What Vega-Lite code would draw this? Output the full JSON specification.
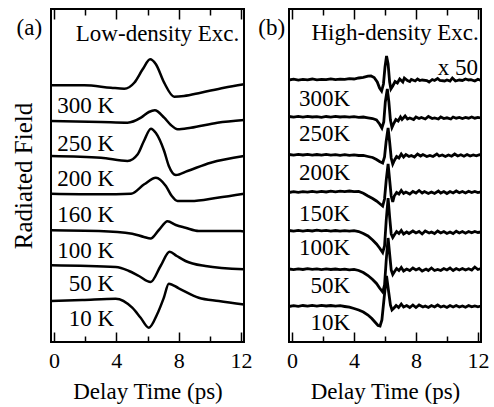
{
  "$schema": "https://vega.github.io/schema/vega-lite/v6.json",
  "padding": {"left": 10, "top": 7, "right": 8, "bottom": 4},
  "bounds": "flush",
  "spacing": 45,
  "config": {
    "font": "Times New Roman, Liberation Serif, DejaVu Serif, serif",
    "view": {"stroke": "black", "strokeWidth": 2},
    "axis": {"grid": false, "domain": false, "tickColor": "black", "tickWidth": 1.5, "labelColor": "black", "titleColor": "black", "labelFontSize": 22, "titleFontSize": 23, "titleFontWeight": "normal", "labelFont": "Times New Roman, Liberation Serif, DejaVu Serif, serif", "titleFont": "Times New Roman, Liberation Serif, DejaVu Serif, serif"},
    "text": {"font": "Times New Roman, Liberation Serif, DejaVu Serif, serif", "fontSize": 23, "align": "right", "baseline": "middle", "color": "black"},
    "line": {"color": "black"}
  },
  "datasets": {
    "a": [
      {"T":"300","t":-0.2,"v":256.7},{"T":"300","t":1.94,"v":256.7},{"T":"300","t":3.65,"v":254.3},{"T":"300","t":4.51,"v":253.3},{"T":"300","t":5.15,"v":259.3},{"T":"300","t":5.69,"v":272.7},{"T":"300","t":6.17,"v":282.7},{"T":"300","t":6.54,"v":277.7},{"T":"300","t":7.07,"v":259.3},{"T":"300","t":7.71,"v":245.3},{"T":"300","t":8.35,"v":246},{"T":"300","t":9.42,"v":249.3},{"T":"300","t":10.92,"v":254.3},{"T":"300","t":12.2,"v":257.7},
      {"T":"250","t":-0.2,"v":221},{"T":"250","t":3.01,"v":220},{"T":"250","t":4.72,"v":219.3},{"T":"250","t":5.58,"v":224.3},{"T":"250","t":6.09,"v":230},{"T":"250","t":6.47,"v":231.7},{"T":"250","t":7.07,"v":224.3},{"T":"250","t":7.5,"v":217},{"T":"250","t":7.93,"v":212.7},{"T":"250","t":8.78,"v":214.3},{"T":"250","t":10.49,"v":219.3},{"T":"250","t":12.2,"v":222},
      {"T":"200","t":-0.2,"v":186},{"T":"200","t":3.01,"v":184.3},{"T":"200","t":4.72,"v":181},{"T":"200","t":5.37,"v":187.7},{"T":"200","t":5.77,"v":201},{"T":"200","t":6.22,"v":213.3},{"T":"200","t":6.54,"v":209},{"T":"200","t":7.07,"v":191},{"T":"200","t":7.37,"v":176},{"T":"200","t":7.82,"v":167},{"T":"200","t":8.57,"v":171},{"T":"200","t":10.06,"v":179.3},{"T":"200","t":12.2,"v":186},
      {"T":"160","t":-0.2,"v":148.3},{"T":"160","t":3.01,"v":147.7},{"T":"160","t":4.94,"v":148.3},{"T":"160","t":5.79,"v":157.7},{"T":"160","t":6.54,"v":164.3},{"T":"160","t":7.18,"v":156},{"T":"160","t":7.56,"v":146},{"T":"160","t":7.93,"v":141},{"T":"160","t":8.78,"v":141},{"T":"160","t":10.49,"v":144.3},{"T":"160","t":12.2,"v":148.3},
      {"T":"100","t":-0.2,"v":111.7},{"T":"100","t":2.88,"v":111},{"T":"100","t":5.02,"v":108.3},{"T":"100","t":5.77,"v":105},{"T":"100","t":6.2,"v":103.5},{"T":"100","t":6.73,"v":112},{"T":"100","t":7.29,"v":120.7},{"T":"100","t":7.82,"v":117},{"T":"100","t":8.44,"v":114.3},{"T":"100","t":9.29,"v":111},{"T":"100","t":11.97,"v":111},{"T":"100","t":12.2,"v":110.5},
      {"T":"50","t":-0.2,"v":76.7},{"T":"50","t":3.96,"v":75},{"T":"50","t":4.81,"v":71},{"T":"50","t":5.45,"v":66},{"T":"50","t":6.2,"v":60},{"T":"50","t":6.84,"v":76},{"T":"50","t":7.42,"v":90.3},{"T":"50","t":7.88,"v":86},{"T":"50","t":8.44,"v":81},{"T":"50","t":9.72,"v":76},{"T":"50","t":12.2,"v":72.7},
      {"T":"10","t":-0.2,"v":41},{"T":"10","t":1.81,"v":42},{"T":"10","t":3.96,"v":43.3},{"T":"10","t":5.02,"v":34.3},{"T":"10","t":5.56,"v":24.3},{"T":"10","t":6.09,"v":14.3},{"T":"10","t":6.62,"v":27.7},{"T":"10","t":7.05,"v":44.3},{"T":"10","t":7.37,"v":58.3},{"T":"10","t":8.01,"v":53.7},{"T":"10","t":9.29,"v":44.3},{"T":"10","t":10.58,"v":41},{"T":"10","t":12.2,"v":37.5}
    ],
    "b": [
      {"T":"300","t":-0.2,"v":262.0},{"T":"300","t":0.1,"v":262.8},{"T":"300","t":0.4,"v":261.9},{"T":"300","t":0.7,"v":262.6},{"T":"300","t":1.0,"v":262.2},{"T":"300","t":1.3,"v":263.0},{"T":"300","t":1.6,"v":262.1},{"T":"300","t":1.9,"v":262.7},{"T":"300","t":2.2,"v":262.3},{"T":"300","t":2.5,"v":263.1},{"T":"300","t":2.8,"v":262.4},{"T":"300","t":3.1,"v":262.9},{"T":"300","t":3.4,"v":262.6},{"T":"300","t":3.7,"v":263.4},{"T":"300","t":4.0,"v":263.0},{"T":"300","t":4.3,"v":264.0},{"T":"300","t":4.6,"v":264.6},{"T":"300","t":4.9,"v":265.8},{"T":"300","t":5.1,"v":266.0},{"T":"300","t":5.3,"v":264.5},{"T":"300","t":5.5,"v":260.0},{"T":"300","t":5.65,"v":254.0},{"T":"300","t":5.78,"v":251.0},{"T":"300","t":5.9,"v":258.0},{"T":"300","t":6.0,"v":275.0},{"T":"300","t":6.1,"v":286.0},{"T":"300","t":6.2,"v":278.0},{"T":"300","t":6.3,"v":260.0},{"T":"300","t":6.38,"v":253.0},{"T":"300","t":6.5,"v":256.0},{"T":"300","t":6.65,"v":260.5},{"T":"300","t":6.8,"v":259.0},{"T":"300","t":6.95,"v":263.0},{"T":"300","t":7.15,"v":260.0},{"T":"300","t":7.25,"v":264.0},{"T":"300","t":7.45,"v":261.5},{"T":"300","t":7.6,"v":260.5},{"T":"300","t":7.7,"v":262.5},{"T":"300","t":7.95,"v":261.0},{"T":"300","t":8.1,"v":263.0},{"T":"300","t":8.25,"v":261.5},{"T":"300","t":8.4,"v":262.0},{"T":"300","t":8.7,"v":261.5},{"T":"300","t":8.85,"v":260.0},{"T":"300","t":9.05,"v":262.5},{"T":"300","t":9.2,"v":261.5},{"T":"300","t":9.4,"v":263.5},{"T":"300","t":9.55,"v":261.5},{"T":"300","t":9.85,"v":261.0},{"T":"300","t":10.0,"v":262.0},{"T":"300","t":10.2,"v":261.0},{"T":"300","t":10.35,"v":264.0},{"T":"300","t":10.55,"v":261.0},{"T":"300","t":10.8,"v":262.0},{"T":"300","t":11.0,"v":261.5},{"T":"300","t":11.2,"v":263.0},{"T":"300","t":11.4,"v":262.0},{"T":"300","t":11.55,"v":262.3},{"T":"300","t":11.8,"v":261.0},{"T":"300","t":12.0,"v":262.8},{"T":"300","t":12.2,"v":261.5},
      {"T":"250","t":-0.2,"v":225.5},{"T":"250","t":0.1,"v":224.8},{"T":"250","t":0.4,"v":225.6},{"T":"250","t":0.7,"v":224.9},{"T":"250","t":1.0,"v":225.7},{"T":"250","t":1.3,"v":225.0},{"T":"250","t":1.6,"v":225.4},{"T":"250","t":1.9,"v":224.6},{"T":"250","t":2.2,"v":225.5},{"T":"250","t":2.5,"v":224.9},{"T":"250","t":2.8,"v":225.6},{"T":"250","t":3.1,"v":225.0},{"T":"250","t":3.4,"v":225.4},{"T":"250","t":3.7,"v":224.8},{"T":"250","t":4.0,"v":225.3},{"T":"250","t":4.3,"v":224.7},{"T":"250","t":4.6,"v":225.0},{"T":"250","t":4.9,"v":224.2},{"T":"250","t":5.2,"v":223.5},{"T":"250","t":5.45,"v":222.0},{"T":"250","t":5.65,"v":218.0},{"T":"250","t":5.8,"v":214.0},{"T":"250","t":5.92,"v":220.0},{"T":"250","t":6.02,"v":240.0},{"T":"250","t":6.15,"v":253.0},{"T":"250","t":6.25,"v":240.0},{"T":"250","t":6.35,"v":222.0},{"T":"250","t":6.45,"v":214.5},{"T":"250","t":6.58,"v":219.0},{"T":"250","t":6.7,"v":222.5},{"T":"250","t":6.85,"v":221.0},{"T":"250","t":7.0,"v":225.0},{"T":"250","t":7.1,"v":222.5},{"T":"250","t":7.3,"v":226.0},{"T":"250","t":7.45,"v":223.0},{"T":"250","t":7.6,"v":224.0},{"T":"250","t":7.85,"v":222.5},{"T":"250","t":8.0,"v":225.0},{"T":"250","t":8.2,"v":223.5},{"T":"250","t":8.35,"v":224.5},{"T":"250","t":8.6,"v":223.0},{"T":"250","t":8.8,"v":225.5},{"T":"250","t":9.05,"v":223.5},{"T":"250","t":9.2,"v":224.0},{"T":"250","t":9.45,"v":223.0},{"T":"250","t":9.6,"v":225.0},{"T":"250","t":9.8,"v":223.5},{"T":"250","t":10.0,"v":224.2},{"T":"250","t":10.25,"v":223.0},{"T":"250","t":10.4,"v":225.0},{"T":"250","t":10.6,"v":223.8},{"T":"250","t":10.8,"v":224.5},{"T":"250","t":11.0,"v":223.5},{"T":"250","t":11.2,"v":224.5},{"T":"250","t":11.4,"v":223.8},{"T":"250","t":11.6,"v":225.0},{"T":"250","t":11.8,"v":223.8},{"T":"250","t":12.0,"v":224.6},{"T":"250","t":12.2,"v":224.0},
      {"T":"200","t":-0.2,"v":187.5},{"T":"200","t":0.1,"v":186.8},{"T":"200","t":0.4,"v":187.6},{"T":"200","t":0.7,"v":187.0},{"T":"200","t":1.0,"v":187.7},{"T":"200","t":1.3,"v":186.9},{"T":"200","t":1.6,"v":187.5},{"T":"200","t":1.9,"v":186.8},{"T":"200","t":2.2,"v":187.6},{"T":"200","t":2.5,"v":186.9},{"T":"200","t":2.8,"v":187.4},{"T":"200","t":3.1,"v":186.7},{"T":"200","t":3.4,"v":187.3},{"T":"200","t":3.7,"v":186.6},{"T":"200","t":4.0,"v":187.2},{"T":"200","t":4.3,"v":186.5},{"T":"200","t":4.6,"v":186.6},{"T":"200","t":4.9,"v":185.5},{"T":"200","t":5.2,"v":184.5},{"T":"200","t":5.45,"v":182.5},{"T":"200","t":5.65,"v":180.5},{"T":"200","t":5.85,"v":179.0},{"T":"200","t":5.97,"v":185.0},{"T":"200","t":6.07,"v":200.0},{"T":"200","t":6.2,"v":214.0},{"T":"200","t":6.3,"v":200.0},{"T":"200","t":6.4,"v":184.0},{"T":"200","t":6.5,"v":178.0},{"T":"200","t":6.62,"v":182.0},{"T":"200","t":6.75,"v":185.5},{"T":"200","t":6.9,"v":184.0},{"T":"200","t":7.05,"v":188.0},{"T":"200","t":7.2,"v":185.0},{"T":"200","t":7.35,"v":187.5},{"T":"200","t":7.55,"v":185.5},{"T":"200","t":7.7,"v":186.5},{"T":"200","t":7.9,"v":185.0},{"T":"200","t":8.1,"v":188.0},{"T":"200","t":8.3,"v":186.0},{"T":"200","t":8.45,"v":187.5},{"T":"200","t":8.7,"v":185.5},{"T":"200","t":8.9,"v":186.5},{"T":"200","t":9.1,"v":185.5},{"T":"200","t":9.35,"v":188.0},{"T":"200","t":9.5,"v":186.0},{"T":"200","t":9.7,"v":187.0},{"T":"200","t":9.9,"v":185.5},{"T":"200","t":10.1,"v":187.0},{"T":"200","t":10.3,"v":185.8},{"T":"200","t":10.5,"v":188.0},{"T":"200","t":10.7,"v":186.0},{"T":"200","t":10.9,"v":187.2},{"T":"200","t":11.1,"v":185.8},{"T":"200","t":11.3,"v":187.5},{"T":"200","t":11.5,"v":186.0},{"T":"200","t":11.7,"v":187.0},{"T":"200","t":11.9,"v":186.2},{"T":"200","t":12.1,"v":187.3},{"T":"200","t":12.2,"v":186.8},
      {"T":"150","t":-0.2,"v":149.5},{"T":"150","t":0.1,"v":150.3},{"T":"150","t":0.4,"v":149.6},{"T":"150","t":0.7,"v":150.4},{"T":"150","t":1.0,"v":149.8},{"T":"150","t":1.3,"v":150.6},{"T":"150","t":1.6,"v":149.9},{"T":"150","t":1.9,"v":150.7},{"T":"150","t":2.2,"v":150.0},{"T":"150","t":2.5,"v":150.8},{"T":"150","t":2.8,"v":150.1},{"T":"150","t":3.1,"v":150.9},{"T":"150","t":3.4,"v":150.4},{"T":"150","t":3.7,"v":151.0},{"T":"150","t":4.0,"v":150.3},{"T":"150","t":4.3,"v":150.5},{"T":"150","t":4.6,"v":148.8},{"T":"150","t":4.9,"v":146.0},{"T":"150","t":5.2,"v":143.5},{"T":"150","t":5.45,"v":141.0},{"T":"150","t":5.65,"v":138.5},{"T":"150","t":5.85,"v":136.0},{"T":"150","t":5.97,"v":143.0},{"T":"150","t":6.08,"v":162.0},{"T":"150","t":6.2,"v":178.0},{"T":"150","t":6.3,"v":162.0},{"T":"150","t":6.4,"v":146.0},{"T":"150","t":6.5,"v":140.0},{"T":"150","t":6.6,"v":146.0},{"T":"150","t":6.75,"v":149.5},{"T":"150","t":6.9,"v":148.0},{"T":"150","t":7.05,"v":151.5},{"T":"150","t":7.2,"v":148.5},{"T":"150","t":7.35,"v":150.0},{"T":"150","t":7.6,"v":148.0},{"T":"150","t":7.8,"v":150.5},{"T":"150","t":8.0,"v":149.0},{"T":"150","t":8.2,"v":151.5},{"T":"150","t":8.4,"v":149.0},{"T":"150","t":8.55,"v":150.5},{"T":"150","t":8.8,"v":148.5},{"T":"150","t":9.0,"v":150.0},{"T":"150","t":9.2,"v":148.5},{"T":"150","t":9.45,"v":151.0},{"T":"150","t":9.6,"v":149.0},{"T":"150","t":9.8,"v":150.5},{"T":"150","t":10.0,"v":148.5},{"T":"150","t":10.2,"v":150.5},{"T":"150","t":10.4,"v":149.0},{"T":"150","t":10.6,"v":151.0},{"T":"150","t":10.8,"v":149.2},{"T":"150","t":11.0,"v":150.5},{"T":"150","t":11.2,"v":149.0},{"T":"150","t":11.4,"v":150.8},{"T":"150","t":11.6,"v":149.5},{"T":"150","t":11.8,"v":150.6},{"T":"150","t":12.0,"v":149.5},{"T":"150","t":12.2,"v":150.2},
      {"T":"100","t":-0.2,"v":111.5},{"T":"100","t":0.1,"v":110.8},{"T":"100","t":0.4,"v":111.6},{"T":"100","t":0.7,"v":110.9},{"T":"100","t":1.0,"v":111.7},{"T":"100","t":1.3,"v":111.0},{"T":"100","t":1.6,"v":111.8},{"T":"100","t":1.9,"v":111.1},{"T":"100","t":2.2,"v":111.6},{"T":"100","t":2.5,"v":110.9},{"T":"100","t":2.8,"v":111.5},{"T":"100","t":3.1,"v":110.8},{"T":"100","t":3.4,"v":111.4},{"T":"100","t":3.7,"v":110.9},{"T":"100","t":4.0,"v":111.3},{"T":"100","t":4.3,"v":110.5},{"T":"100","t":4.6,"v":108.5},{"T":"100","t":4.9,"v":106.0},{"T":"100","t":5.2,"v":102.0},{"T":"100","t":5.45,"v":98.0},{"T":"100","t":5.65,"v":94.0},{"T":"100","t":5.85,"v":89.5},{"T":"100","t":5.97,"v":96.0},{"T":"100","t":6.08,"v":122.0},{"T":"100","t":6.2,"v":144.0},{"T":"100","t":6.3,"v":125.0},{"T":"100","t":6.4,"v":108.0},{"T":"100","t":6.5,"v":104.5},{"T":"100","t":6.62,"v":107.5},{"T":"100","t":6.75,"v":110.5},{"T":"100","t":6.9,"v":108.5},{"T":"100","t":7.05,"v":111.5},{"T":"100","t":7.2,"v":108.0},{"T":"100","t":7.4,"v":110.0},{"T":"100","t":7.55,"v":108.5},{"T":"100","t":7.8,"v":111.0},{"T":"100","t":8.0,"v":109.0},{"T":"100","t":8.2,"v":110.5},{"T":"100","t":8.4,"v":108.0},{"T":"100","t":8.6,"v":111.0},{"T":"100","t":8.85,"v":109.0},{"T":"100","t":9.0,"v":110.0},{"T":"100","t":9.2,"v":108.5},{"T":"100","t":9.4,"v":111.0},{"T":"100","t":9.6,"v":109.0},{"T":"100","t":9.8,"v":110.5},{"T":"100","t":10.0,"v":108.5},{"T":"100","t":10.2,"v":110.0},{"T":"100","t":10.4,"v":108.5},{"T":"100","t":10.6,"v":110.8},{"T":"100","t":10.8,"v":109.0},{"T":"100","t":11.0,"v":110.5},{"T":"100","t":11.2,"v":108.8},{"T":"100","t":11.4,"v":110.5},{"T":"100","t":11.6,"v":109.2},{"T":"100","t":11.8,"v":110.5},{"T":"100","t":12.0,"v":109.5},{"T":"100","t":12.2,"v":110.0},
      {"T":"50","t":-0.2,"v":73.0},{"T":"50","t":0.1,"v":72.3},{"T":"50","t":0.4,"v":73.2},{"T":"50","t":0.7,"v":72.5},{"T":"50","t":1.0,"v":73.3},{"T":"50","t":1.3,"v":72.6},{"T":"50","t":1.6,"v":73.1},{"T":"50","t":1.9,"v":72.4},{"T":"50","t":2.2,"v":73.2},{"T":"50","t":2.5,"v":72.5},{"T":"50","t":2.8,"v":73.0},{"T":"50","t":3.1,"v":72.3},{"T":"50","t":3.4,"v":72.9},{"T":"50","t":3.7,"v":72.2},{"T":"50","t":4.0,"v":72.6},{"T":"50","t":4.3,"v":71.5},{"T":"50","t":4.6,"v":69.5},{"T":"50","t":4.9,"v":66.5},{"T":"50","t":5.2,"v":62.5},{"T":"50","t":5.45,"v":58.5},{"T":"50","t":5.65,"v":54.0},{"T":"50","t":5.85,"v":50.0},{"T":"50","t":5.97,"v":57.0},{"T":"50","t":6.08,"v":82.0},{"T":"50","t":6.2,"v":104.0},{"T":"50","t":6.3,"v":88.0},{"T":"50","t":6.4,"v":72.0},{"T":"50","t":6.5,"v":67.5},{"T":"50","t":6.62,"v":70.5},{"T":"50","t":6.75,"v":73.5},{"T":"50","t":6.9,"v":71.5},{"T":"50","t":7.05,"v":74.5},{"T":"50","t":7.2,"v":71.0},{"T":"50","t":7.4,"v":73.0},{"T":"50","t":7.6,"v":71.5},{"T":"50","t":7.8,"v":74.0},{"T":"50","t":8.0,"v":72.0},{"T":"50","t":8.2,"v":73.5},{"T":"50","t":8.4,"v":71.0},{"T":"50","t":8.65,"v":73.0},{"T":"50","t":8.8,"v":71.5},{"T":"50","t":9.0,"v":74.0},{"T":"50","t":9.2,"v":71.5},{"T":"50","t":9.4,"v":72.5},{"T":"50","t":9.6,"v":71.5},{"T":"50","t":9.8,"v":73.5},{"T":"50","t":10.0,"v":72.0},{"T":"50","t":10.2,"v":74.0},{"T":"50","t":10.4,"v":71.5},{"T":"50","t":10.6,"v":73.5},{"T":"50","t":10.8,"v":72.0},{"T":"50","t":11.0,"v":73.5},{"T":"50","t":11.2,"v":72.0},{"T":"50","t":11.4,"v":73.2},{"T":"50","t":11.6,"v":72.0},{"T":"50","t":11.8,"v":75.0},{"T":"50","t":12.0,"v":72.5},{"T":"50","t":12.2,"v":73.5},
      {"T":"10","t":-0.2,"v":35.5},{"T":"10","t":0.1,"v":36.3},{"T":"10","t":0.4,"v":35.6},{"T":"10","t":0.7,"v":36.5},{"T":"10","t":1.0,"v":35.8},{"T":"10","t":1.3,"v":36.6},{"T":"10","t":1.6,"v":35.9},{"T":"10","t":1.9,"v":36.7},{"T":"10","t":2.2,"v":36.0},{"T":"10","t":2.5,"v":36.5},{"T":"10","t":2.8,"v":35.8},{"T":"10","t":3.1,"v":36.3},{"T":"10","t":3.4,"v":35.5},{"T":"10","t":3.7,"v":34.8},{"T":"10","t":4.0,"v":33.5},{"T":"10","t":4.3,"v":32.0},{"T":"10","t":4.6,"v":30.0},{"T":"10","t":4.9,"v":27.0},{"T":"10","t":5.15,"v":23.5},{"T":"10","t":5.35,"v":20.0},{"T":"10","t":5.55,"v":16.5},{"T":"10","t":5.68,"v":16.0},{"T":"10","t":5.8,"v":22.0},{"T":"10","t":5.95,"v":45.0},{"T":"10","t":6.1,"v":66.0},{"T":"10","t":6.22,"v":52.0},{"T":"10","t":6.35,"v":37.0},{"T":"10","t":6.45,"v":32.0},{"T":"10","t":6.58,"v":34.0},{"T":"10","t":6.72,"v":36.5},{"T":"10","t":6.88,"v":34.5},{"T":"10","t":7.05,"v":38.0},{"T":"10","t":7.2,"v":35.0},{"T":"10","t":7.4,"v":36.5},{"T":"10","t":7.6,"v":34.5},{"T":"10","t":7.8,"v":37.0},{"T":"10","t":8.0,"v":34.5},{"T":"10","t":8.2,"v":37.0},{"T":"10","t":8.45,"v":35.0},{"T":"10","t":8.6,"v":36.0},{"T":"10","t":8.8,"v":34.5},{"T":"10","t":9.0,"v":36.5},{"T":"10","t":9.2,"v":35.0},{"T":"10","t":9.4,"v":37.0},{"T":"10","t":9.6,"v":35.0},{"T":"10","t":9.8,"v":36.0},{"T":"10","t":10.0,"v":34.5},{"T":"10","t":10.2,"v":36.5},{"T":"10","t":10.4,"v":35.0},{"T":"10","t":10.6,"v":36.5},{"T":"10","t":10.8,"v":35.0},{"T":"10","t":11.0,"v":36.0},{"T":"10","t":11.2,"v":34.8},{"T":"10","t":11.4,"v":36.5},{"T":"10","t":11.6,"v":35.2},{"T":"10","t":11.8,"v":36.0},{"T":"10","t":12.0,"v":35.2},{"T":"10","t":12.2,"v":36.0}
    ],
    "la": [
      {"label":"(a)","t":-0.77,"v":314},
      {"label":"Low-density Exc.","t":11.9,"v":308},
      {"label":"300 K","t":3.85,"v":236},
      {"label":"250 K","t":3.85,"v":198},
      {"label":"200 K","t":3.85,"v":163},
      {"label":"160 K","t":3.85,"v":127},
      {"label":"100 K","t":3.85,"v":91},
      {"label":"50 K","t":3.85,"v":58},
      {"label":"10 K","t":3.85,"v":23}
    ],
    "lb": [
      {"label":"(b)","t":-0.45,"v":314},
      {"label":"High-density Exc.","t":12.06,"v":309},
      {"label":"x 50","t":12.0,"v":274},
      {"label":"300K","t":3.74,"v":243},
      {"label":"250K","t":3.74,"v":208},
      {"label":"200K","t":3.74,"v":169},
      {"label":"150K","t":3.74,"v":128},
      {"label":"100K","t":3.74,"v":94},
      {"label":"50K","t":3.74,"v":56},
      {"label":"10K","t":3.74,"v":19}
    ]
  },
  "hconcat": [
    {
      "width": 193,
      "height": 333,
      "layer": [
        {
          "data": {"name": "a"},
          "mark": {"type": "line", "interpolate": "monotone", "strokeWidth": 2.5, "color": "black"},
          "encoding": {
            "x": {"field": "t", "type": "quantitative", "scale": {"domain": [-0.2, 12.2], "nice": false, "zero": false},
              "axis": {"title": "Delay Time (ps)", "values": [0, 2, 4, 6, 8, 10, 12], "labelExpr": "datum.value % 4 === 0 ? datum.label : ''", "tickSize": {"condition": {"test": "datum.value % 4 === 0", "value": -10}, "value": -6}, "labelPadding": 18, "labelOverlap": false, "labelFlush": false, "titlePadding": 5}},
            "y": {"field": "v", "type": "quantitative", "scale": {"domain": [0, 333], "nice": false, "zero": false},
              "axis": {"title": "Radiated Field", "titleFontSize": 25, "labels": false, "ticks": false, "domain": false, "titlePadding": 15}},
            "detail": {"field": "T"}
          }
        },
        {
          "data": {"name": "la"},
          "mark": {"type": "text"},
          "encoding": {
            "x": {"field": "t", "type": "quantitative", "scale": {"domain": [-0.2, 12.2], "nice": false, "zero": false},
              "axis": {"orient": "top", "title": null, "labels": false, "values": [0, 2, 4, 6, 8, 10, 12], "tickSize": {"condition": {"test": "datum.value % 4 === 0", "value": -10}, "value": -6}}},
            "y": {"field": "v", "type": "quantitative", "scale": {"domain": [0, 333], "nice": false, "zero": false}, "axis": null},
            "text": {"field": "label"}
          }
        }
      ],
      "resolve": {"axis": {"x": "independent", "y": "independent"}}
    },
    {
      "width": 192,
      "height": 333,
      "layer": [
        {
          "data": {"name": "b"},
          "mark": {"type": "line", "interpolate": "linear", "strokeWidth": 2.8, "color": "black"},
          "encoding": {
            "x": {"field": "t", "type": "quantitative", "scale": {"domain": [-0.2, 12.2], "nice": false, "zero": false},
              "axis": {"title": "Delay Time (ps)", "values": [0, 2, 4, 6, 8, 10, 12], "labelExpr": "datum.value % 4 === 0 ? datum.label : ''", "tickSize": {"condition": {"test": "datum.value % 4 === 0", "value": -10}, "value": -6}, "labelPadding": 18, "labelOverlap": false, "labelFlush": false, "titlePadding": 5}},
            "y": {"field": "v", "type": "quantitative", "scale": {"domain": [0, 333], "nice": false, "zero": false}, "axis": null},
            "detail": {"field": "T"}
          }
        },
        {
          "data": {"name": "lb"},
          "mark": {"type": "text"},
          "encoding": {
            "x": {"field": "t", "type": "quantitative", "scale": {"domain": [-0.2, 12.2], "nice": false, "zero": false},
              "axis": {"orient": "top", "title": null, "labels": false, "values": [0, 2, 4, 6, 8, 10, 12], "tickSize": {"condition": {"test": "datum.value % 4 === 0", "value": -10}, "value": -6}}},
            "y": {"field": "v", "type": "quantitative", "scale": {"domain": [0, 333], "nice": false, "zero": false}, "axis": null},
            "text": {"field": "label"}
          }
        }
      ],
      "resolve": {"axis": {"x": "independent", "y": "independent"}}
    }
  ]
}
